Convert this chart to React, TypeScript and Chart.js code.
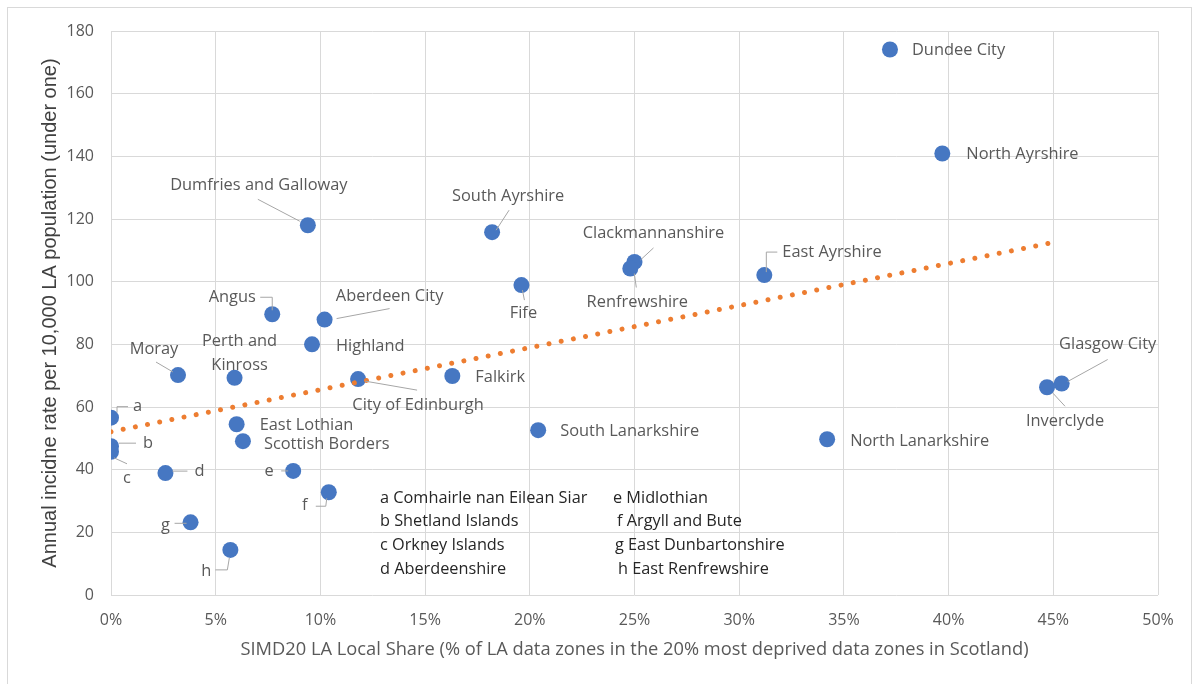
import { useEffect, useRef } from "react";
import { Chart, registerables } from "chart.js";

Chart.register(...registerables);

// ---- Data ----
const areas = [
  "Dundee City",
  "North Ayrshire",
  "Glasgow City",
  "Inverclyde",
  "North Lanarkshire",
  "East Ayrshire",
  "Clackmannanshire",
  "Renfrewshire",
  "South Ayrshire",
  "Fife",
  "South Lanarkshire",
  "Falkirk",
  "City of Edinburgh",
  "Dumfries and Galloway",
  "Aberdeen City",
  "Highland",
  "Angus",
  "Perth and Kinross",
  "Moray",
  "East Lothian",
  "Scottish Borders",
  "Comhairle nan Eilean Siar",
  "Shetland Islands",
  "Orkney Islands",
  "Aberdeenshire",
  "Midlothian",
  "Argyll and Bute",
  "East Dunbartonshire",
  "East Renfrewshire",
];

const pointLabels = [
  "Dundee City",
  "North Ayrshire",
  "Glasgow City",
  "Inverclyde",
  "North Lanarkshire",
  "East Ayrshire",
  "Clackmannanshire",
  "Renfrewshire",
  "South Ayrshire",
  "Fife",
  "South Lanarkshire",
  "Falkirk",
  "City of Edinburgh",
  "Dumfries and Galloway",
  "Aberdeen City",
  "Highland",
  "Angus",
  "Perth and\nKinross",
  "Moray",
  "East Lothian",
  "Scottish Borders",
  "a",
  "b",
  "c",
  "d",
  "e",
  "f",
  "g",
  "h",
];

// SIMD20 LA local share (%)
const xShare = [
  37.2, 39.7, 45.4, 44.7, 34.2, 31.2, 25.0, 24.8, 18.2, 19.6, 20.4, 16.3, 11.8,
  9.4, 10.2, 9.6, 7.7, 5.9, 3.2, 6.0, 6.3, 0.0, 0.0, 0.0, 2.6, 8.7, 10.4, 3.8,
  5.7,
];

// Annual incidence rate per 10,000 LA population (under one)
const yRate = [
  174.1, 140.9, 67.5, 66.3, 49.7, 102.1, 106.3, 104.2, 115.8, 98.9, 52.6, 69.9,
  68.9, 118.0, 87.9, 80.0, 89.6, 69.3, 70.2, 54.5, 49.1, 56.6, 47.5, 45.7, 38.9,
  39.6, 32.8, 23.2, 14.4,
];

// Linear trendline end points
const trendX = [0, 44.84];
const trendY = [52.1, 112.3];

const keyLeft = [
  "a Comhairle nan Eilean Siar",
  "b Shetland Islands",
  "c Orkney Islands",
  "d Aberdeenshire",
];
const keyRight = [
  "e Midlothian",
  "f Argyll and Bute",
  "g East Dunbartonshire",
  "h East Renfrewshire",
];

const xTitle =
  "SIMD20 LA Local Share (% of LA data zones in the 20% most deprived data zones in Scotland)";
const yTitle = "Annual incidne rate per 10,000 LA population (under one)";

// ---- Label layout (pixel offsets relative to each point) ----
type LabelLayout = {
  dx: number;
  dy: number;
  align: CanvasTextAlign;
  leader?: number[][];
};

const labelLayout: LabelLayout[] = [
  { dx: 22, dy: 1, align: "left" },
  { dx: 24, dy: 1, align: "left" },
  { dx: 46, dy: -39, align: "center", leader: [[46, -24], [6, -2]] },
  { dx: 18, dy: 34, align: "center", leader: [[18, 19], [6, 6]] },
  { dx: 23, dy: 2, align: "left" },
  { dx: 18, dy: -23, align: "left", leader: [[13, -23], [2, -23], [2, -3]] },
  { dx: 19, dy: -29, align: "center", leader: [[19, -14], [6, -2]] },
  { dx: 7, dy: 34, align: "center", leader: [[6, 19], [4, 5]] },
  { dx: 16, dy: -36, align: "center", leader: [[17, -22], [4, -2]] },
  { dx: 2, dy: 28, align: "center", leader: [[3, 15], [1, 5]] },
  { dx: 22, dy: 1, align: "left" },
  { dx: 23, dy: 1, align: "left" },
  { dx: 60, dy: 26, align: "center", leader: [[7, 2], [59, 11]] },
  { dx: -49, dy: -40, align: "center", leader: [[-50, -26], [-8, -4]] },
  { dx: 65, dy: -23, align: "center", leader: [[65, -11], [12, -1]] },
  { dx: 24, dy: 2, align: "left" },
  { dx: -40, dy: -17, align: "center", leader: [[-12, -17], [0, -17], [0, -4]] },
  { dx: 5, dy: -37, align: "center" },
  { dx: -24, dy: -26, align: "center", leader: [[-22, -13], [-5, -3]] },
  { dx: 23, dy: 1, align: "left" },
  { dx: 21, dy: 3, align: "left" },
  { dx: 22, dy: -11, align: "left", leader: [[17, -11], [6, -11], [6, -5]] },
  { dx: 32, dy: -3, align: "left", leader: [[8, -3], [25, -3]] },
  { dx: 16, dy: 27, align: "center", leader: [[3, 6], [16, 12]] },
  { dx: 29, dy: -2, align: "left", leader: [[7, -2], [22, -2]] },
  { dx: -24, dy: 0, align: "center", leader: [[-12, 0], [-5, 0]] },
  { dx: -24, dy: 13, align: "center", leader: [[-13, 14], [-3, 14], [-2, 6]] },
  { dx: -25, dy: 3, align: "center", leader: [[-16, 1], [-4, 1]] },
  { dx: -24, dy: 21, align: "center", leader: [[-15, 20], [-3, 20], [-1, 8]] },
];

const FONT = "'Open Sans', 'Noto Sans', sans-serif";
const YFONT = "'Liberation Sans', Arial, sans-serif";
const TEXT = "#595959";
const GRID = "#D9D9D9";

const labelPlugin = {
  id: "pointLabels",
  afterDatasetsDraw(chart: any) {
    const ctx: CanvasRenderingContext2D = chart.ctx;
    const meta = chart.getDatasetMeta(1);
    ctx.save();
    // leaders
    ctx.strokeStyle = "#A6A6A6";
    ctx.lineWidth = 1;
    meta.data.forEach((el: any, i: number) => {
      const lay = labelLayout[i];
      if (!lay || !lay.leader) return;
      ctx.beginPath();
      lay.leader.forEach((p, j) => {
        const x = el.x + p[0];
        const y = el.y + p[1];
        if (j === 0) ctx.moveTo(x, y);
        else ctx.lineTo(x, y);
      });
      ctx.stroke();
    });
    // texts
    ctx.fillStyle = TEXT;
    ctx.font = `16.4px ${FONT}`;
    ctx.textBaseline = "middle";
    meta.data.forEach((el: any, i: number) => {
      const lay = labelLayout[i];
      if (!lay) return;
      ctx.textAlign = lay.align;
      const lines = pointLabels[i].split("\n");
      lines.forEach((line, j) => {
        ctx.fillText(line, el.x + lay.dx, el.y + lay.dy + j * 24);
      });
    });
    // key text box
    const area = chart.chartArea;
    ctx.fillStyle = "#262626";
    ctx.textAlign = "left";
    ctx.font = `16.3px ${FONT}`;
    const rowTop = area.top + 467;
    keyLeft.forEach((t, i) => {
      ctx.fillText(t, area.left + 269, rowTop + i * 23.7);
    });
    const rightX = [502, 506, 504, 507];
    keyRight.forEach((t, i) => {
      ctx.fillText(t, area.left + rightX[i], rowTop + i * 23.7);
    });
    ctx.restore();
  },
};

export default function App() {
  const canvasRef = useRef<HTMLCanvasElement | null>(null);

  useEffect(() => {
    if (!canvasRef.current) return;
    const chart = new Chart(canvasRef.current, {
      type: "scatter",
      data: {
        datasets: [
          {
            type: "line",
            label: "Trend",
            data: trendX.map((x, i) => ({ x, y: trendY[i] })),
            borderColor: "#ED7D31",
            borderWidth: 5,
            borderDash: [0.01, 12.4],
            borderCapStyle: "round",
            pointRadius: 0,
            fill: false,
            order: 0,
          } as any,
          {
            label: "Local authorities",
            data: xShare.map((x, i) => ({ x, y: yRate[i] })),
            backgroundColor: "#4677C2",
            borderColor: "#4677C2",
            borderWidth: 0,
            pointRadius: 8,
            pointHoverRadius: 8,
            order: 1,
          },
        ],
      },
      options: {
        animation: false,
        responsive: true,
        maintainAspectRatio: false,
        events: [],
        layout: { padding: { left: 0, right: 34, top: 31, bottom: 0 } },
        plugins: {
          legend: { display: false },
          tooltip: { enabled: false },
        },
        scales: {
          x: {
            type: "linear",
            min: 0,
            max: 50,
            ticks: {
              stepSize: 5,
              color: TEXT,
              padding: 16,
              font: { family: FONT, size: 16 },
              callback: (v: any) => `${v}%`,
            },
            grid: { color: GRID, drawTicks: false },
            border: { display: false },
            title: {
              display: true,
              text: xTitle,
              color: TEXT,
              font: { family: FONT, size: 18.3 },
              padding: { top: 0, bottom: 23 },
            },
            afterFit: (s: any) => {
              s.height = 89;
            },
          },
          y: {
            type: "linear",
            min: 0,
            max: 180,
            ticks: {
              stepSize: 20,
              color: TEXT,
              padding: 17,
              font: { family: FONT, size: 16 },
            },
            grid: { color: GRID, drawTicks: false },
            border: { display: false },
            title: {
              display: true,
              text: yTitle,
              color: "#404040",
              font: { family: YFONT, size: 20 },
              padding: { top: 38, bottom: 0 },
            },
            afterFit: (s: any) => {
              s.width = 111;
            },
          },
        },
      },
      plugins: [labelPlugin],
    });
    return () => chart.destroy();
  }, []);

  return (
    <div
      style={{
        position: "absolute",
        left: 0,
        top: 0,
        width: 1192,
        height: 684,
        background: "#fff",
      }}
    >
      <div
        style={{
          position: "absolute",
          left: 7,
          top: 7,
          width: 1185,
          height: 677,
          boxSizing: "border-box",
          borderTop: "1px solid #D9D9D9",
          borderLeft: "1px solid #D9D9D9",
          borderRight: "1px solid #D9D9D9",
        }}
      />
      <canvas
        ref={canvasRef}
        style={{ position: "absolute", left: 0, top: 0, width: 1192, height: 684 }}
      />
    </div>
  );
}
